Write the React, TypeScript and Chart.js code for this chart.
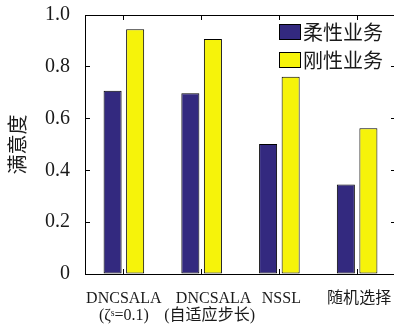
import React, { useEffect, useRef } from "react";
import { Chart, registerables } from "chart.js";

Chart.register(...registerables);

// Method names on the category axis (leading spaces nudge a label sideways)
const categories: string[][] = [
  ["DNCSALA", "(ζˢ=0.1)"],
  ["      DNCSALA", "    (自适应步长)"],
  [" NSSL"],
  [" 随机选择"],
];

const seriesNames = ["柔性业务", "刚性业务"];
const flexibleValues = [0.708, 0.698, 0.502, 0.346];
const rigidValues = [0.945, 0.907, 0.762, 0.563];
const seriesColors = ["#33297f", "#f6f30a"];

const yTickLabels = ["0", "0.2", "0.4", "0.6", "0.8", "1.0"];
const yTitle = "满意度";

const SERIF = '"Liberation Serif", "Noto Sans CJK SC", serif';
const CJK = '"Noto Sans CJK SC", sans-serif';
const INK = "#1a1a1a";

// Legend drawn as boxed swatches in the upper-right corner of the plot
const boxLegend = {
  id: "boxLegend",
  afterDraw(chart: any) {
    const { ctx, chartArea } = chart;
    ctx.save();
    chart.data.datasets.forEach((ds: any, i: number) => {
      const x = chartArea.right - 117;
      const y = chartArea.top + 9 + i * 28;
      ctx.fillStyle = ds.backgroundColor;
      ctx.fillRect(x, y, 22, 16);
      ctx.strokeStyle = "#000";
      ctx.lineWidth = 1;
      ctx.strokeRect(x + 0.5, y + 0.5, 21, 15);
      ctx.fillStyle = INK;
      ctx.font = `20px ${CJK}`;
      ctx.textBaseline = "middle";
      ctx.textAlign = "left";
      ctx.fillText(ds.label, x + 24, y + 8);
    });
    ctx.restore();
  },
};

const innerTicks = {
  drawOnChartArea: false,
  drawTicks: true,
  tickLength: -5,
  color: "#000",
  lineWidth: 1,
};

// Fix an axis' thickness and drop the edge padding reserved for end labels
const fixSize = (size: number) => (s: any) => {
  if (s.isHorizontal()) s.height = size;
  else s.width = size;
  s.paddingTop = 0;
  s.paddingBottom = 0;
  s.paddingLeft = 0;
  s.paddingRight = 0;
};

export default function App() {
  const canvasRef = useRef<HTMLCanvasElement | null>(null);

  useEffect(() => {
    const canvas = canvasRef.current;
    if (!canvas) return;
    const chart = new Chart(canvas, {
      type: "bar",
      data: {
        labels: categories,
        datasets: [
          {
            label: seriesNames[0],
            data: flexibleValues,
            backgroundColor: seriesColors[0],
            borderColor: "#000",
            borderWidth: 1,
            borderSkipped: false,
            xAxisID: "x",
            yAxisID: "y",
          },
          {
            label: seriesNames[1],
            data: rigidValues,
            backgroundColor: seriesColors[1],
            borderColor: "#000",
            borderWidth: 1,
            borderSkipped: false,
            xAxisID: "x",
            yAxisID: "y",
          },
        ],
      },
      options: {
        responsive: false,
        animation: false,
        devicePixelRatio: 1,
        categoryPercentage: 0.58,
        barPercentage: 0.8,
        layout: { padding: { top: 15, right: 4, left: 0, bottom: 0 } },
        plugins: {
          legend: { display: false },
          tooltip: { enabled: false },
        },
        scales: {
          x: {
            type: "category",
            position: "bottom",
            offset: true,
            grid: { ...innerTicks, offset: false },
            border: { color: "#000", width: 1 },
            ticks: {
              color: INK,
              font: { family: SERIF, size: 16, lineHeight: 1.06 },
              padding: 21,
              maxRotation: 0,
              minRotation: 0,
              autoSkip: false,
            },
            afterFit: fixSize(53),
          },
          xTop: {
            type: "category",
            position: "top",
            offset: true,
            grid: { ...innerTicks, offset: false },
            border: { color: "#000", width: 1 },
            ticks: { display: false },
            afterFit: fixSize(0),
          },
          y: {
            type: "linear",
            position: "left",
            min: 0,
            max: 1,
            grid: innerTicks,
            border: { color: "#000", width: 1 },
            ticks: {
              stepSize: 0.2,
              color: INK,
              padding: 20,
              font: { family: SERIF, size: 20 },
              callback: (_v: any, i: number) => yTickLabels[i],
            },
            title: {
              display: true,
              text: yTitle,
              color: INK,
              font: { family: CJK, size: 20, lineHeight: 1.2 },
              padding: { top: 5, bottom: 0 },
            },
            afterFit: fixSize(85),
          },
          yRight: {
            type: "linear",
            position: "right",
            min: 0,
            max: 1,
            grid: innerTicks,
            border: { color: "#000", width: 1 },
            ticks: { display: false, stepSize: 0.2 },
            afterFit: fixSize(0),
          },
        },
      } as any,
      plugins: [boxLegend],
    });
    return () => chart.destroy();
  }, []);

  return (
    <div
      style={{
        position: "fixed",
        left: 0,
        top: 0,
        width: 394,
        height: 327,
        overflow: "hidden",
        background: "#fff",
      }}
    >
      <canvas ref={canvasRef} width={400} height={327} style={{ width: 400, height: 327 }} />
    </div>
  );
}
